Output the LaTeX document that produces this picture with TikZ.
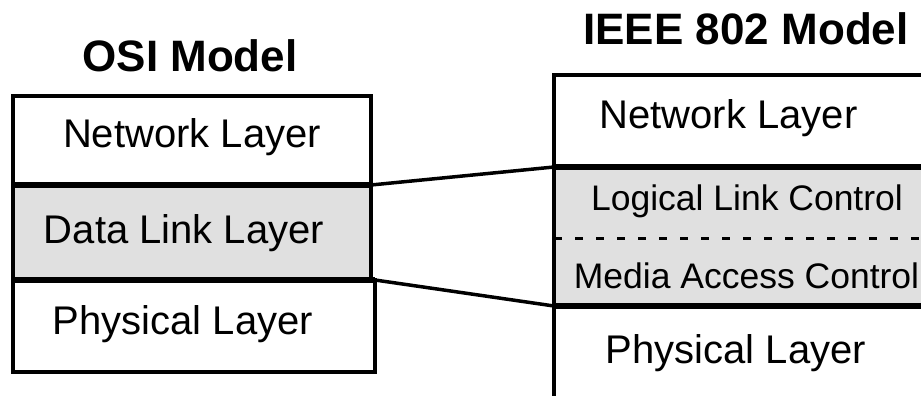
\documentclass[tikz,border=0pt]{standalone}
\usepackage{fontspec}
\setmainfont{Liberation Sans}
\definecolor{layerfill}{RGB}{224,224,224}
\begin{document}
\begin{tikzpicture}[x=1pt,y=-1pt,
  layer/.style={inner sep=0pt, outer sep=0pt},
  shaded/.style={fill=layerfill},
  outline/.style={draw=black, line width=3.5pt},
  divider/.style={line width=6pt},
  sublayer/.style={line width=3pt, dash pattern=on 8pt off 13pt},
  link/.style={line width=3.5pt},
  label/.style={anchor=base, inner sep=0pt, font=\fontsize{40}{48}\selectfont},
  small/.style={anchor=base, inner sep=0pt, font=\fontsize{35.5}{43}\selectfont},
  heading/.style={anchor=base, inner sep=0pt, font=\bfseries\fontsize{44}{53}\selectfont}]
\useasboundingbox (0,0) rectangle (921,396);
\clip (0,0) rectangle (921,396);

% OSI stack
\node[layer, minimum width=358pt, minimum height=89pt] (lnet) at (192,140.5) {};
\node[layer, shaded, minimum width=358pt, minimum height=95pt] (ldl) at (192,232.5) {};
\node[layer, minimum width=362pt, minimum height=92pt] (lphy) at (194,326) {};

% IEEE 802 stack (runs past the right and bottom edges)
\node[layer, minimum width=406pt, minimum height=92pt] (rnet) at (757,121) {};
\node[layer, shaded, minimum width=406pt, minimum height=71pt] (rllc) at (757,202.5) {};
\node[layer, shaded, minimum width=406pt, minimum height=68pt] (rmac) at (757,272) {};
\node[layer, minimum width=406pt, minimum height=124pt] (rphy) at (757,368) {};

% outlines
\draw[outline] (lnet.north west) rectangle (ldl.south east);
\draw[outline] (lphy.north west) rectangle (lphy.south east);
\draw[outline] (rnet.north west) rectangle (rphy.south east);

% layer boundaries
\draw[divider] (lnet.south west) -- (lnet.south east);
\draw[divider] (ldl.south west) -- (lphy.north east);
\draw[divider] (rnet.south west) -- (rnet.south east);
\draw[sublayer] (rllc.south west) -- (rllc.south east);
\draw[divider] (rmac.south west) -- (rmac.south east);

% mapping of the data link layer onto LLC + MAC
\draw[link] (ldl.north east) -- (rllc.north west);
\draw[link] (lphy.north east) -- (rmac.south west);

% headings
\node[heading] (osititle) at (190,72) {OSI Model};
\node[heading] (ieeetitle) at (746,45) {IEEE 802 Model};

% layer names
\node[label] (lnettext) at (192,147) {Network Layer};
\node[label] (ldltext) at (184,243) {Data Link Layer};
\node[label] (lphytext) at (183,334) {Physical Layer};
\node[label] (rnettext) at (728.5,128) {Network Layer};
\node[small] (rllctext) at (747,210) {Logical Link Control};
\node[small] (rmactext) at (746.5,288) {Media Access Control};
\node[label] (rphytext) at (736,363) {Physical Layer};
\end{tikzpicture}
\end{document}
